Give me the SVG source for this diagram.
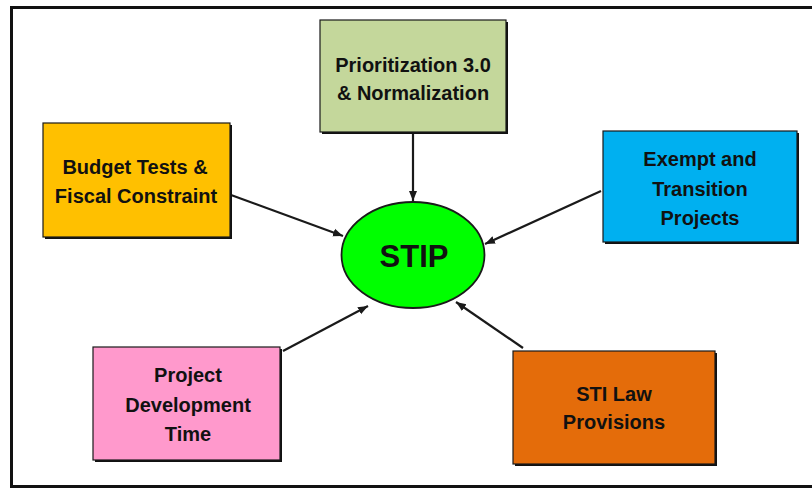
<svg xmlns="http://www.w3.org/2000/svg" width="812" height="488" viewBox="0 0 812 488">
<defs>
<style>
.box{stroke:#1a1a1a;stroke-width:1.2}
.shadow{fill:#111}
.lbl{font-family:"Liberation Sans",Arial,sans-serif;font-weight:bold;font-size:20px;fill:#111;text-anchor:middle}
.conn{stroke:#1a1a1a;stroke-width:2.2;fill:none;marker-end:url(#ah)}
</style>
<marker id="ah" markerUnits="userSpaceOnUse" markerWidth="10" markerHeight="10" viewBox="0 0 10 10" refX="10" refY="5" orient="auto">
<path d="M0,1 L10,5 L0,9 Z" fill="#1a1a1a"/>
</marker>
</defs>
<rect width="812" height="488" fill="#ffffff"/>
<rect x="11.5" y="7.5" width="830" height="479" fill="none" stroke="#111" stroke-width="3"/>

<g id="connectors">
<line class="conn" x1="413" y1="133" x2="413" y2="201"/>
<line class="conn" x1="231" y1="195" x2="343" y2="236"/>
<line class="conn" x1="601" y1="191" x2="485" y2="244"/>
<line class="conn" x1="283" y1="351" x2="368" y2="306"/>
<line class="conn" x1="523" y1="348" x2="456" y2="302"/>
</g>

<g id="node-prioritization">
<rect class="shadow" x="322" y="22" width="186" height="112"/>
<rect class="box" x="320" y="20" width="186" height="112" fill="#C4D79B"/>
<text class="lbl" x="413" y="71.5">Prioritization 3.0</text>
<text class="lbl" x="413" y="100">&amp; Normalization</text>
</g>

<g id="node-budget">
<rect class="shadow" x="45" y="125" width="187" height="114"/>
<rect class="box" x="43" y="123" width="187" height="114" fill="#FFC000"/>
<text class="lbl" x="135" y="173.5">Budget Tests &amp;</text>
<text class="lbl" x="136" y="203">Fiscal Constraint</text>
</g>

<g id="node-exempt">
<rect class="shadow" x="605" y="133" width="194" height="111"/>
<rect class="box" x="603" y="131" width="194" height="111" fill="#00B0F0"/>
<text class="lbl" x="700" y="166">Exempt and</text>
<text class="lbl" x="700" y="196">Transition</text>
<text class="lbl" x="700" y="225">Projects</text>
</g>

<g id="node-project">
<rect class="shadow" x="95" y="349" width="187" height="113"/>
<rect class="box" x="93" y="347" width="187" height="113" fill="#FF99CC"/>
<text class="lbl" x="188" y="382">Project</text>
<text class="lbl" x="188" y="412">Development</text>
<text class="lbl" x="188" y="441">Time</text>
</g>

<g id="node-sti">
<rect class="shadow" x="515" y="353" width="202" height="113"/>
<rect class="box" x="513" y="351" width="202" height="113" fill="#E46C0A"/>
<text class="lbl" x="614" y="401">STI Law</text>
<text class="lbl" x="614" y="429">Provisions</text>
</g>

<g id="node-stip">
<ellipse cx="413" cy="255" rx="71.5" ry="53" fill="#00FF00" stroke="#1a1a1a" stroke-width="1.8"/>
<text x="414" y="266.5" font-family="'Liberation Sans',Arial,sans-serif" font-weight="bold" font-size="31" fill="#111" text-anchor="middle">STIP</text>
</g>
</svg>
